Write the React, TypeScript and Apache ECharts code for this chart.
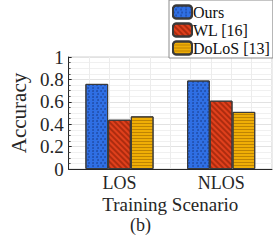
import React, { useEffect, useRef } from "react";
import * as echarts from "echarts";

const categories = ["LOS", "NLOS"];
const seriesNames = ["Ours", "WL [16]", "DoLoS [13]"];
const ours = [0.76, 0.79];
const wl = [0.44, 0.61];
const dolos = [0.47, 0.51];
const yTicks = [0, 0.2, 0.4, 0.6, 0.8, 1];

const FONT = "Liberation Serif";
const TXT = "#262626";

export default function App() {
  const ref = useRef<HTMLDivElement>(null);
  useEffect(() => {
    if (!ref.current) return;
    const chart = echarts.init(ref.current, null, { renderer: "svg" });
    const border = { borderColor: "#3a3a3a", borderWidth: 1 };
    chart.setOption({
      animation: false,
      backgroundColor: "#ffffff",
      grid: {
        left: 48,
        right: 1,
        top: 57,
        bottom: 73,
        show: true,
        borderColor: "#d0d0d0",
        borderWidth: 1,
      },
      legend: {
        orient: "vertical",
        left: 169,
        top: 0,
        padding: [4, 3, 2, 3],
        itemWidth: 19,
        itemHeight: 13,
        itemGap: 2,
        backgroundColor: "#ffffff",
        borderColor: "#8c8c8c",
        borderWidth: 1,
        textStyle: { fontFamily: FONT, fontSize: 16, color: "#111", padding: [0, 0, 0, -4], lineHeight: 14 },
        data: seriesNames,
      },
      xAxis: [
        {
          type: "category",
          data: categories,
          axisLine: { lineStyle: { color: TXT } },
          axisTick: { show: false },
          axisLabel: { fontFamily: FONT, fontSize: 18, color: TXT, margin: 5 },
          name: "Training Scenario",
          nameLocation: "middle",
          nameGap: 26,
          nameTextStyle: { fontFamily: FONT, fontSize: 19, color: TXT },
        },
        {
          type: "value",
          min: 0.5,
          max: 2.5,
          interval: 0.2,
          position: "bottom",
          axisLine: { show: false },
          axisTick: { show: false },
          axisLabel: { show: false },
          splitLine: { show: true, lineStyle: { color: "#ececec", width: 1 } },
        },
      ],
      yAxis: {
        type: "value",
        min: 0,
        max: 1,
        interval: 0.2,
        axisLine: { show: true, lineStyle: { color: TXT } },
        axisTick: { show: true, inside: true, length: 3, lineStyle: { color: TXT } },
        minorTick: { show: true, splitNumber: 4, length: 2, lineStyle: { color: "#555" } },
        axisLabel: {
          fontFamily: FONT,
          fontSize: 19,
          color: TXT,
          margin: 5,
          formatter: (v: number) => (yTicks.includes(Number(v.toFixed(1))) ? String(Number(v.toFixed(1))) : ""),
        },
        splitLine: { show: true, lineStyle: { color: "#e2e2e2" } },
        minorSplitLine: { show: true, lineStyle: { color: "#f0f0f0" } },
        name: "Accuracy",
        nameLocation: "middle",
        nameGap: 35,
        nameTextStyle: { fontFamily: FONT, fontSize: 21, color: TXT },
      },
      graphic: [
        {
          type: "text",
          left: 130,
          top: 216,
          style: { text: "(b)", fontFamily: FONT, fontSize: 18, fill: TXT },
        },
      ],
      series: [
        {
          name: seriesNames[0],
          type: "bar",
          data: ours,
          barGap: "0%",
          barCategoryGap: "33%",
          itemStyle: {
            color: "#2f6fe4",
            ...border,
            decal: {
              symbol: "circle",
              symbolSize: 0.9,
              dashArrayX: [[0, 1.5, 2, 0.5], [2, 2]],
              dashArrayY: [2, 1],
              color: "rgba(10,30,90,0.45)",
            },
          },
        },
        {
          name: seriesNames[1],
          type: "bar",
          data: wl,
          itemStyle: {
            color: "#e0401c",
            ...border,
            decal: {
              symbol: "rect",
              symbolSize: 1,
              dashArrayX: [1, 0],
              dashArrayY: [1.5, 2],
              rotation: Math.PI / 4,
              color: "rgba(110,20,0,0.45)",
            },
          },
        },
        {
          name: seriesNames[2],
          type: "bar",
          data: dolos,
          itemStyle: {
            color: "#efae06",
            ...border,
            decal: {
              symbol: "rect",
              symbolSize: 1,
              dashArrayX: [1, 0],
              dashArrayY: [1, 2],
              color: "rgba(130,80,0,0.45)",
            },
          },
        },
      ],
    });
    return () => chart.dispose();
  }, []);
  return (
    <div
      ref={ref}
      style={{ position: "fixed", left: 0, top: 0, width: 273, height: 242 }}
    />
  );
}
